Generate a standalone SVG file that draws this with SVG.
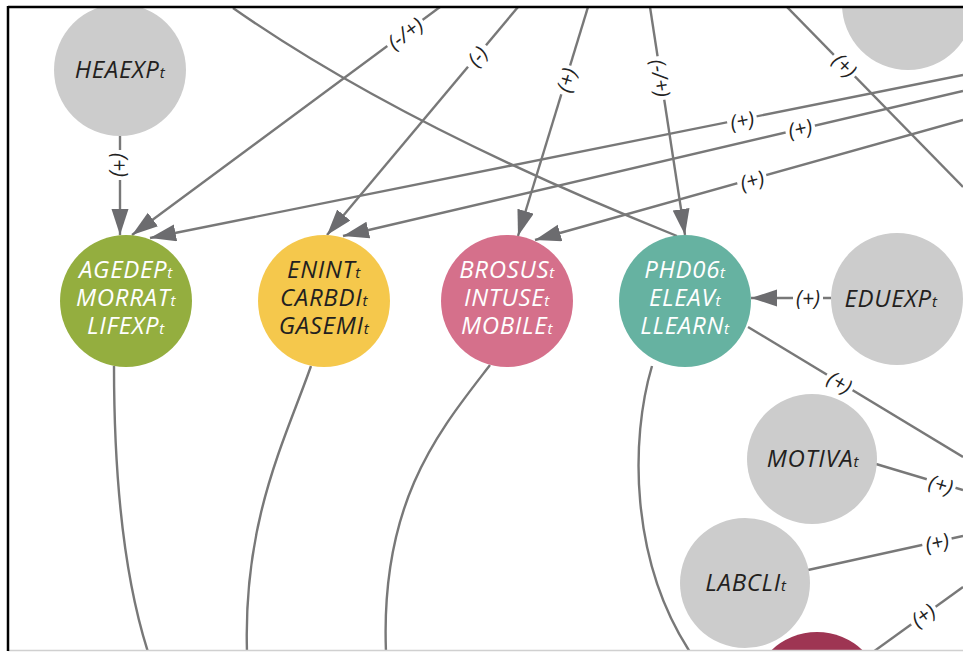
<svg xmlns="http://www.w3.org/2000/svg" width="963" height="652" viewBox="0 0 963 652">
<style>
.e{fill:none;stroke:#787878;stroke-width:2.4}
.a{marker-end:url(#ah)}
.lb rect{fill:#fff}
.lb text{font-family:"Open Sans","Noto Sans",sans-serif;font-style:italic;font-size:21px;fill:#222;text-anchor:middle;dominant-baseline:central}
.nt{font-family:"Open Sans","Noto Sans",sans-serif;font-style:italic;font-size:24px;letter-spacing:0.7px;text-anchor:middle}
.s{font-size:15px}
.gray{fill:#cccccc}
.dk{fill:#231f20}
.wt{fill:#ffffff}
</style>
<defs>
<marker id="ah" markerUnits="userSpaceOnUse" markerWidth="28" markerHeight="18" refX="26" refY="8.5" orient="auto"><path d="M0,0 L26,8.5 L0,17 z" fill="#6c6c6f"/></marker>
<clipPath id="cp"><rect x="9" y="8" width="954" height="642"/></clipPath>
</defs>
<rect width="963" height="652" fill="#fff"/>
<g clip-path="url(#cp)">
<g id="connectors">
<path class="e a" d="M120,136 L120,235"/>
<path class="e a" d="M440,7 L132,235"/>
<path class="e a" d="M518,7 L327,235"/>
<path class="e a" d="M588,7 L518,236"/>
<path class="e a" d="M650,7 L685,235"/>
<path class="e" d="M787,7 L963,187"/>
<path class="e" d="M233,8 Q400,125 677,236"/>
<path class="e a" d="M963,75 L150,238"/>
<path class="e a" d="M963,91 L343,236"/>
<path class="e a" d="M963,120 L535,240"/>
<path class="e a" d="M831,298 L751,298"/>
<path class="e" d="M748,327 L963,457"/>
<path class="e" d="M876,464 L963,490"/>
<path class="e" d="M808,570 L963,536"/>
<path class="e" d="M873,652 L963,587"/>
<path class="e" d="M114,366 C114,480 125,580 148,652"/>
<path class="e" d="M311,366 C285,440 243,520 247,652"/>
<path class="e" d="M490,365 C440,430 380,500 386,652"/>
<path class="e" d="M652,366 C630,440 630,560 690,652"/>
<g class="lb" transform="translate(120,165) rotate(90)"><rect x="-15" y="-10" width="30" height="20"/><text>(+)</text></g>
<g class="lb" transform="translate(405,33) rotate(-36.5)"><rect x="-22" y="-10" width="44" height="20"/><text>(-/+)</text></g>
<g class="lb" transform="translate(477,56) rotate(-50)"><rect x="-14" y="-10" width="28" height="20"/><text>(-)</text></g>
<g class="lb" transform="translate(566,80) rotate(-73)"><rect x="-15" y="-10" width="30" height="20"/><text>(+)</text></g>
<g class="lb" transform="translate(661,78) rotate(81.3)"><rect x="-22" y="-10" width="44" height="20"/><text>(-/+)</text></g>
<g class="lb" transform="translate(845,65) rotate(45.6)"><rect x="-15" y="-10" width="30" height="20"/><text>(+)</text></g>
<g class="lb" transform="translate(742,120) rotate(-11.3)"><rect x="-15" y="-10" width="30" height="20"/><text>(+)</text></g>
<g class="lb" transform="translate(800,128) rotate(-13)"><rect x="-15" y="-10" width="30" height="20"/><text>(+)</text></g>
<g class="lb" transform="translate(752,180) rotate(-15.6)"><rect x="-15" y="-10" width="30" height="20"/><text>(+)</text></g>
<g class="lb" transform="translate(808,298)"><rect x="-15" y="-10" width="30" height="20"/><text>(+)</text></g>
<g class="lb" transform="translate(840,382) rotate(31)"><rect x="-15" y="-10" width="30" height="20"/><text>(+)</text></g>
<g class="lb" transform="translate(941,484) rotate(17)"><rect x="-15" y="-10" width="30" height="20"/><text>(+)</text></g>
<g class="lb" transform="translate(937,542) rotate(-12.4)"><rect x="-15" y="-10" width="30" height="20"/><text>(+)</text></g>
<g class="lb" transform="translate(923,615) rotate(-36)"><rect x="-15" y="-10" width="30" height="20"/><text>(+)</text></g>
</g>
<g id="HEAEXP"><circle class="gray" cx="120" cy="70" r="66"/><text class="nt dk" x="120" y="78">HEAEXP<tspan class="s">t</tspan></text></g>
<g id="TOPRIGHT"><circle class="gray" cx="908" cy="4" r="66"/></g>
<g id="AGEDEP"><circle cx="126" cy="301" r="66" fill="#94ae3f"/>
<text class="nt wt" x="126" y="278">AGEDEP<tspan class="s">t</tspan></text>
<text class="nt wt" x="126" y="306">MORRAT<tspan class="s">t</tspan></text>
<text class="nt wt" x="126" y="334">LIFEXP<tspan class="s">t</tspan></text></g>
<g id="ENINT"><circle cx="324" cy="301" r="66" fill="#f5c84c"/>
<text class="nt dk" x="324" y="278">ENINT<tspan class="s">t</tspan></text>
<text class="nt dk" x="324" y="306">CARBDI<tspan class="s">t</tspan></text>
<text class="nt dk" x="324" y="334">GASEMI<tspan class="s">t</tspan></text></g>
<g id="BROSUS"><circle cx="507" cy="301" r="66" fill="#d5708b"/>
<text class="nt wt" x="507" y="278">BROSUS<tspan class="s">t</tspan></text>
<text class="nt wt" x="507" y="306">INTUSE<tspan class="s">t</tspan></text>
<text class="nt wt" x="507" y="334">MOBILE<tspan class="s">t</tspan></text></g>
<g id="PHD06"><circle cx="685" cy="301" r="66" fill="#66b2a1"/>
<text class="nt wt" x="685" y="278">PHD06<tspan class="s">t</tspan></text>
<text class="nt wt" x="685" y="306">ELEAV<tspan class="s">t</tspan></text>
<text class="nt wt" x="685" y="334">LLEARN<tspan class="s">t</tspan></text></g>
<g id="EDUEXP"><circle class="gray" cx="897" cy="299" r="66"/><text class="nt dk" x="891" y="307">EDUEXP<tspan class="s">t</tspan></text></g>
<g id="MOTIVA"><circle class="gray" cx="812" cy="459" r="65"/><text class="nt dk" x="813" y="467">MOTIVA<tspan class="s">t</tspan></text></g>
<g id="LABCLI"><circle class="gray" cx="745" cy="583" r="65"/><text class="nt dk" x="746" y="591">LABCLI<tspan class="s">t</tspan></text></g>
<g id="DARKRED"><circle cx="817" cy="698" r="66" fill="#9e3553"/></g>
</g>
<path d="M8,650.5 H963" stroke="#d0d0d0" stroke-width="1.5"/>
<path d="M8,7 H963 M8,6 V651" stroke="#000" stroke-width="2.5" fill="none"/>
</svg>
